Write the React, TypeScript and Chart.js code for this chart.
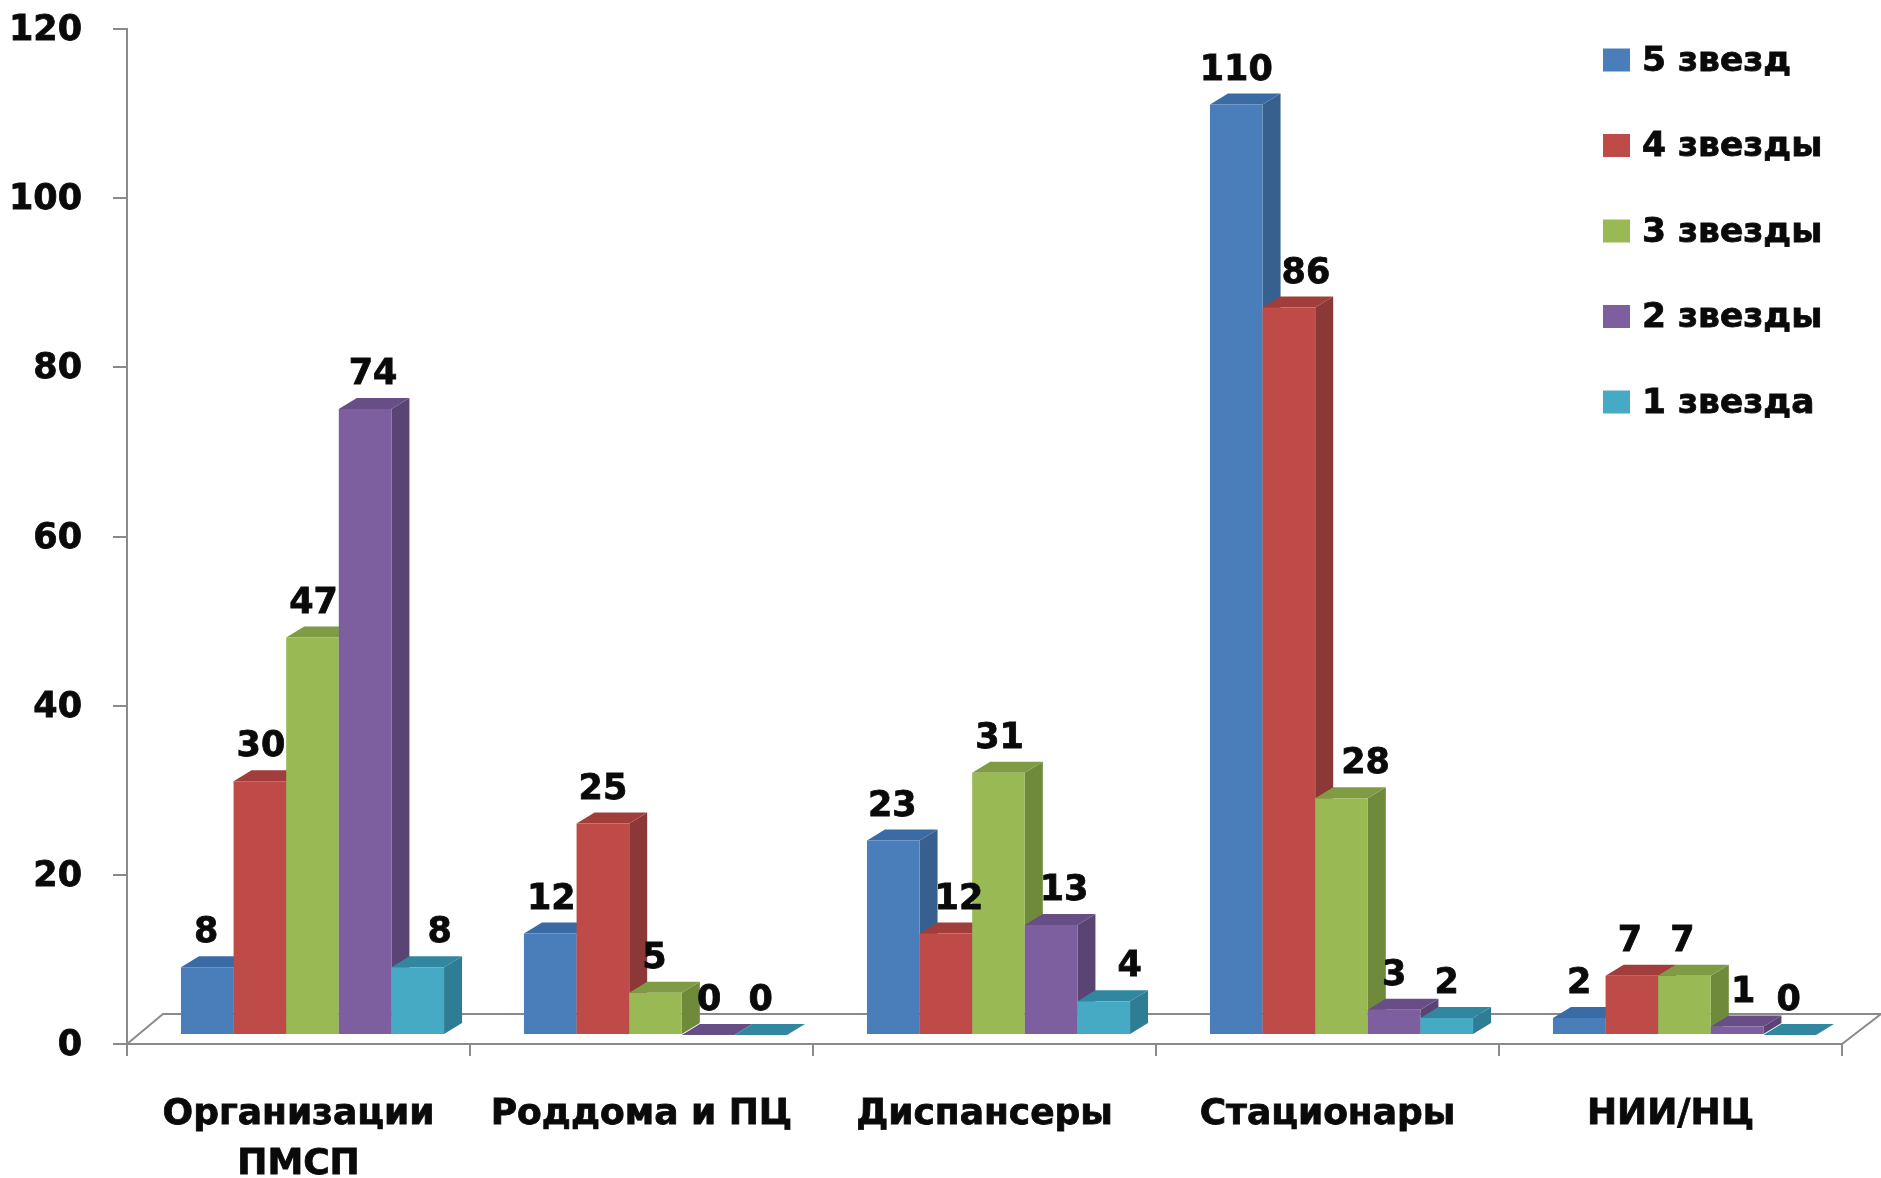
import React, { useEffect, useRef } from "react";
import { Chart, registerables } from "chart.js";

Chart.register(...registerables);

const categories = [["Организации", "ПМСП"], "Роддома и ПЦ", "Диспансеры", "Стационары", "НИИ/НЦ"];
const yTicks = [0, 20, 40, 60, 80, 100, 120];
const seriesNames = ["5 звезд", "4 звезды", "3 звезды", "2 звезды", "1 звезда"];
const five = [8, 12, 23, 110, 2];
const four = [30, 25, 12, 86, 7];
const three = [47, 5, 31, 28, 7];
const two = [74, 0, 13, 3, 1];
const one = [8, 0, 4, 2, 0];
const seriesValues = [five, four, three, two, one];
const frontColors = ["#4A7EBB", "#BE4B48", "#98B954", "#7D5FA0", "#46AAC5"];
const sideColors = ["#37608F", "#8C3836", "#6F8A3A", "#5A4474", "#2F7D94"];
const topColors = ["#3A6BA5", "#A13E3B", "#7F9C44", "#674E86", "#31879F"];
// horizontal nudges of the value labels, in px, per series and category
const labelNudges = [
  [-1, 1, -1, 0, 0],
  [1, 0, 13, 17, -2],
  [1, -1, 1, 24, -2],
  [8, 1, 13, 0, 6],
  [22, 0, 26, 0, -1],
];

const FONT = "bold 35px 'DejaVu Sans'";
const LEGEND_FONT = "bold 34.5px 'DejaVu Sans'";
const INK = "#0A0A0A";
const AXIS = "#8A8A8A";
const SHIFT_X = 14;
const SHIFT_Y = -9;
const DEPTH_X = 18;
const DEPTH_Y = 11;

const heavyText = (ctx: any, text: string, x: number, y: number) => {
  ctx.lineWidth = 0.8;
  ctx.strokeStyle = INK;
  ctx.strokeText(text, x, y);
  ctx.fillText(text, x, y);
};

const threeD = {
  id: "threeD",
  beforeDatasetsDraw(chart: any) {
    const { ctx, chartArea: a } = chart;
    ctx.save();
    ctx.strokeStyle = AXIS;
    ctx.lineWidth = 2;
    ctx.beginPath();
    ctx.moveTo(a.left, a.bottom);
    ctx.lineTo(a.left + 36, a.bottom - 30);
    ctx.lineTo(chart.width, a.bottom - 30);
    ctx.lineTo(a.right, a.bottom);
    ctx.stroke();
    ctx.restore();

    ctx.save();
    ctx.translate(SHIFT_X, SHIFT_Y);
    chart.data.datasets.forEach((_: any, i: number) => {
      chart.getDatasetMeta(i).data.forEach((bar: any) => {
        const l = bar.x - bar.width / 2;
        const r = bar.x + bar.width / 2;
        const t = bar.y;
        const b = bar.base;
        ctx.fillStyle = sideColors[i];
        ctx.beginPath();
        ctx.moveTo(r, t);
        ctx.lineTo(r + DEPTH_X, t - DEPTH_Y);
        ctx.lineTo(r + DEPTH_X, b - DEPTH_Y);
        ctx.lineTo(r, b);
        ctx.closePath();
        ctx.fill();
        ctx.fillStyle = topColors[i];
        ctx.beginPath();
        ctx.moveTo(l, t);
        ctx.lineTo(l + DEPTH_X, t - DEPTH_Y);
        ctx.lineTo(r + DEPTH_X, t - DEPTH_Y);
        ctx.lineTo(r, t);
        ctx.closePath();
        ctx.fill();
        bar.draw(ctx);
      });
    });
    ctx.restore();
  },
  beforeDatasetDraw() {
    return false;
  },
  afterDatasetsDraw(chart: any) {
    const { ctx } = chart;
    ctx.save();
    ctx.fillStyle = INK;
    ctx.font = FONT;
    ctx.textAlign = "center";
    ctx.textBaseline = "middle";
    chart.data.datasets.forEach((ds: any, i: number) => {
      chart.getDatasetMeta(i).data.forEach((bar: any, j: number) => {
        heavyText(ctx, String(ds.data[j]), bar.x + SHIFT_X + labelNudges[i][j], bar.y + SHIFT_Y - 34);
      });
    });
    ctx.textAlign = "left";
    ctx.font = LEGEND_FONT;
    seriesNames.forEach((name, i) => {
      const cy = 60 + i * 85.5;
      ctx.fillStyle = frontColors[i];
      ctx.fillRect(1603, cy - 11.5, 27, 23);
      ctx.fillStyle = INK;
      heavyText(ctx, name, 1642, cy + 2);
    });
    ctx.restore();
  },
};

export default function App() {
  const ref = useRef<HTMLCanvasElement>(null);
  useEffect(() => {
    document.body.style.margin = "0";
    const chart = new Chart(ref.current as HTMLCanvasElement, {
      type: "bar",
      data: {
        labels: categories as any,
        datasets: seriesNames.map((label, i) => ({
          label,
          data: seriesValues[i],
          backgroundColor: frontColors[i],
          categoryPercentage: 0.767,
          barPercentage: 1,
        })),
      },
      options: {
        animation: false,
        responsive: false,
        devicePixelRatio: 1,
        layout: { padding: { top: 29, right: 39, left: 0, bottom: 0 } },
        plugins: { legend: { display: false }, tooltip: { enabled: false } },
        scales: {
          x: {
            offset: true,
            grid: { drawOnChartArea: false, color: AXIS, tickLength: 12, lineWidth: 2 },
            border: { color: AXIS, width: 2 },
            ticks: {
              color: INK,
              padding: 33,
              maxRotation: 0,
              autoSkip: false,
              textStrokeColor: INK,
              textStrokeWidth: 0.8,
              font: { family: "'DejaVu Sans'", weight: "bold", size: 36, lineHeight: 1.4 },
            },
            afterFit(s: any) {
              s.height = 134;
            },
          },
          y: {
            min: 0,
            max: 120,
            afterBuildTicks(s: any) {
              s.ticks = yTicks.map((value) => ({ value }));
            },
            grid: { drawOnChartArea: false, color: AXIS, tickLength: 14, lineWidth: 2 },
            border: { color: AXIS, width: 2 },
            ticks: {
              color: INK,
              padding: 31,
              labelOffset: 2,
              textStrokeColor: INK,
              textStrokeWidth: 0.8,
              font: { family: "'DejaVu Sans'", weight: "bold", size: 35 },
            },
            afterFit(s: any) {
              s.width = 127;
              s.paddingTop = 0;
              s.paddingBottom = 0;
            },
          },
        },
      },
      plugins: [threeD],
    });
    return () => chart.destroy();
  }, []);
  return (
    <div style={{ position: "absolute", left: 0, top: 0, width: 1881, height: 1178, background: "#fff" }}>
      <canvas ref={ref} width={1881} height={1178} style={{ display: "block", width: 1881, height: 1178 }} />
    </div>
  );
}
